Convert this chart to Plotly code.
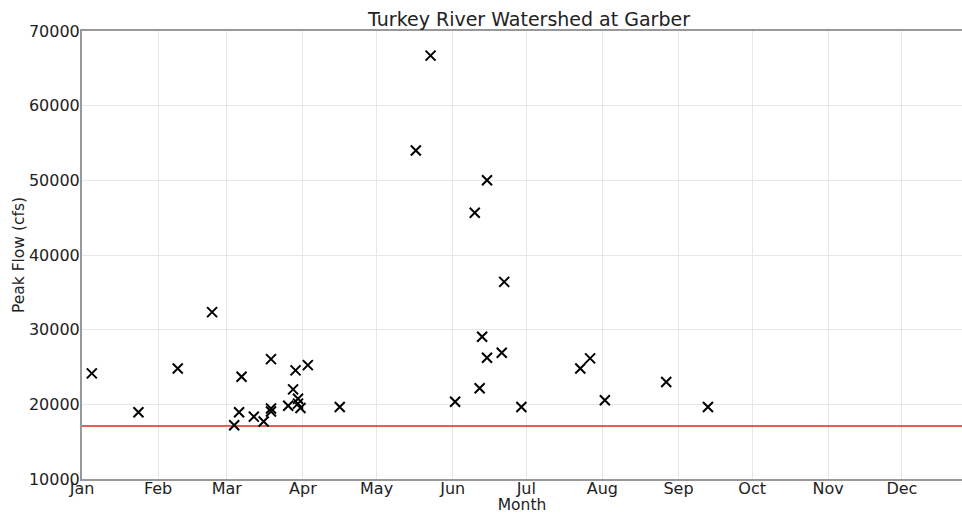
import plotly.graph_objects as go
from datetime import datetime

# Peak flow events (month-day within a single reference year) and values (cfs)
peak_dates = [
    "01-05", "01-24", "02-09", "02-23",
    "03-04", "03-06", "03-07", "03-12", "03-16", "03-19", "03-19", "03-19",
    "03-26", "03-28", "03-29", "03-30", "03-30", "03-31", "04-03", "04-16",
    "05-17", "05-23",
    "06-02", "06-10", "06-12", "06-13", "06-15", "06-15", "06-21", "06-22", "06-29",
    "07-23", "07-27", "08-02", "08-27", "09-13",
]
peak_flows = [
    24150, 18950, 24800, 32350,
    17200, 18950, 23700, 18350, 17700, 26050, 19450, 19050,
    19800, 22000, 24550, 20750, 20100, 19500, 25250, 19650,
    54000, 66700,
    20350, 45650, 22150, 29050, 50000, 26250, 26900, 36400, 19650,
    24800, 26150, 20550, 23000, 19650,
]

threshold_flow = 17100

month_ticks = ["01-01", "02-01", "03-01", "04-01", "05-01", "06-01",
               "07-01", "08-01", "09-01", "10-01", "11-01", "12-01"]
month_labels = ["Jan", "Feb", "Mar", "Apr", "May", "Jun",
                "Jul", "Aug", "Sep", "Oct", "Nov", "Dec"]
flow_ticks = [10000, 20000, 30000, 40000, 50000, 60000, 70000]

YEAR = 2001
def d(md):
    m, dd = md.split("-")
    return datetime(YEAR, int(m), int(dd))

x_start = datetime(YEAR, 1, 1)
x_end = datetime(YEAR, 12, 25, 12)

fig = go.Figure()
fig.add_trace(go.Scatter(
    x=[x_start, x_end], y=[threshold_flow, threshold_flow],
    mode="lines", line=dict(color="rgba(235,60,60,0.85)", width=2),
    hoverinfo="skip", showlegend=False,
))
fig.add_trace(go.Scatter(
    x=[d(s) for s in peak_dates], y=peak_flows,
    mode="markers",
    marker=dict(symbol="x-thin-open", size=10, color="black",
                line=dict(color="black", width=2)),
    showlegend=False,
))

font_family = "DejaVu Sans"
fig.update_layout(
    width=962, height=514,
    margin=dict(l=82, r=0, t=31, b=35, autoexpand=False),
    paper_bgcolor="white", plot_bgcolor="white",
    font=dict(family=font_family, size=16, color="#222"),
    title=dict(text="Turkey River Watershed at Garber", x=0.508, xanchor="center",
               xref="paper", y=1, yref="paper", yanchor="bottom",
               pad=dict(b=5), font=dict(size=19, color="#222"),
               automargin=False),
    xaxis=dict(
        range=[x_start, x_end], automargin=False,
        tickvals=[d(s) for s in month_ticks], ticktext=month_labels,
        showgrid=True, gridcolor="#e6e6e6", gridwidth=1,
        showline=True, linecolor="#999", linewidth=2, mirror=True,
        ticks="", ticklabelstandoff=-6,
        tickfont=dict(size=16),
        title=dict(text="Month", font=dict(size=15.5), standoff=3),
        zeroline=False,
    ),
    yaxis=dict(
        range=[10000, 70000], automargin=False,
        tickvals=flow_ticks, tickformat="d",
        showgrid=True, gridcolor="#e6e6e6", gridwidth=1,
        showline=True, linecolor="#999", linewidth=2,
        ticks="", ticklabelstandoff=-3,
        tickfont=dict(size=16),
        title=dict(text="Peak Flow (cfs)", font=dict(size=15.5), standoff=0),
        zeroline=False,
    ),
)

fig.write_html("out.html",
               config={"displayModeBar": False},
               post_script="document.body.style.margin='0';document.body.style.overflow='hidden';")
